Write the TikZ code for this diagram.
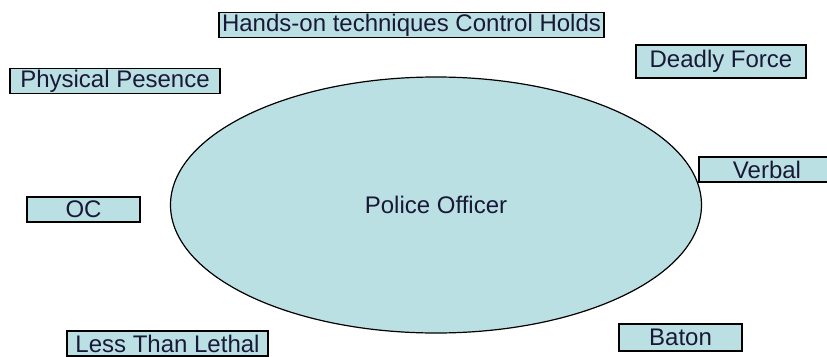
\documentclass[tikz,border=0pt]{standalone}
\usepackage{fontspec}
\setmainfont{Liberation Sans}
\usetikzlibrary{shapes.geometric}

\definecolor{boxfill}{RGB}{187,224,228}
\definecolor{boxtext}{RGB}{25,25,55}

\begin{document}
\begin{tikzpicture}[x=1pt,y=-1pt,
        force/.style={draw, line width=1.3pt, fill=boxfill, text=boxtext,
            inner sep=0pt, minimum height=25pt, font=\fontsize{24}{26}\selectfont}]
        \useasboundingbox (0,0) rectangle (827,356);

        % officer in the middle
        \node[draw, ellipse, line width=1.2pt, fill=boxfill, text=boxtext,
            minimum width=531pt, minimum height=256pt, inner sep=0pt,
            font=\fontsize{24}{26}\selectfont] (officer) at (436,205) {Police Officer};

        % levels of force round it
        \node[force, minimum width=385pt] (hands) at (411.5,25) {Hands-on techniques Control Holds};
        \node[force, minimum width=210pt] (presence) at (115,81) {Physical Pesence};
        \node[force, minimum width=170pt, minimum height=33pt] (deadly) at (721,61.5) {Deadly Force};
        \node[force, minimum width=136pt] (verbal) at (767,169.5) {Verbal};
        \node[force, minimum width=113pt] (oc) at (83.5,209.5) {OC};
        \node[force, minimum width=201pt] (lethal) at (167.5,343.5) {Less Than Lethal};
        \node[force, minimum width=123pt, minimum height=27pt] (baton) at (680.5,337.5) {Baton};
    \end{tikzpicture}
\end{document}
